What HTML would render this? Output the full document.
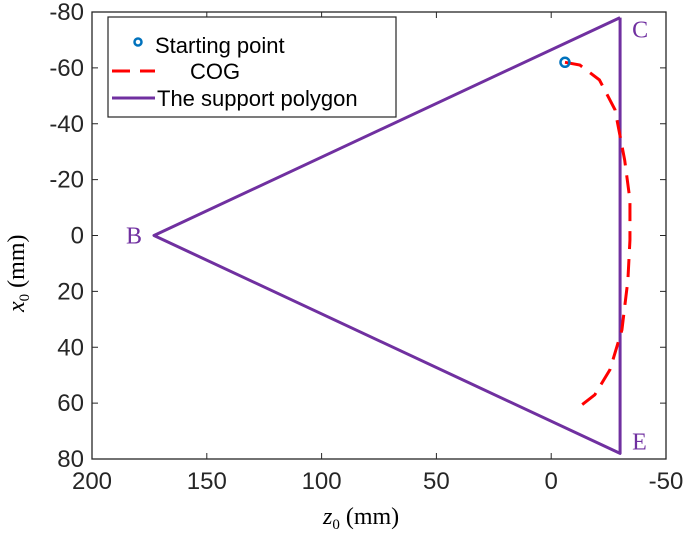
<!DOCTYPE html>
<html><head><meta charset="utf-8"><style>
body{margin:0;background:#fff}
svg text{font-family:"Liberation Sans",sans-serif}
</style></head><body>
<svg id="chart" width="685" height="531" xmlns="http://www.w3.org/2000/svg">
</svg>
<script>
const xTicks=[200,150,100,50,0,-50];
const yTicks=[-80,-60,-40,-20,0,20,40,60,80];
const polyZ=[-30,173,-30,-30];
const polyX=[-78,0,78,-78];
const cogZ=[-6,-12.5,-21,-27.8,-32,-34.3,-34.3,-33.4,-30.8,-25.6,-19,-11.7];
const cogX=[-62,-61,-55.7,-45,-27,-12.7,1.6,16,33.8,48,57,61.7];
const startZ=[-6];
const startX=[-62];
const vertexLabels=["C","B","E"];
const vertexZ=[-30,173,-30];
const vertexX=[-78,0,78];

const L=92,R=666,T=12,B=459;
const sx=z=>L+(200-z)/250*(R-L);
const sy=x=>T+(x+80)/160*(B-T);
const svg=document.getElementById('chart');
const NS='http://www.w3.org/2000/svg';
function mk(tag,attrs,txt){const e=document.createElementNS(NS,tag);for(const k in attrs)e.setAttribute(k,attrs[k]);if(txt!==undefined)e.textContent=txt;svg.appendChild(e);return e;}

let e=mk('rect',{x:L,y:T,width:R-L,height:B-T,fill:'none',stroke:'#262626','stroke-width':1.3});


xTicks.forEach(t=>{const x=sx(t);
 let a=mk('line',{x1:x,x2:x,y1:B,y2:B-6,stroke:'#262626'});
 
 
 a=mk('line',{x1:x,x2:x,y1:T,y2:T+6,stroke:'#262626'});
 
 
 a=mk('text',{x:x,y:B+30,'font-size':24,'text-anchor':'middle',fill:'#262626'},String(t));
 
 
});
yTicks.forEach(t=>{const y=sy(t);
 let a=mk('line',{x1:L,x2:L+6,y1:y,y2:y,stroke:'#262626'});
 
 
 a=mk('line',{x1:R,x2:R-6,y1:y,y2:y,stroke:'#262626'});
 
 
 a=mk('text',{x:L-8,y:y+8,'font-size':24,'text-anchor':'end',fill:'#262626'},String(t));
 
 
});
let pts=polyZ.map((z,i)=>sx(z)+','+sy(polyX[i])).join(' ');
e=mk('polyline',{points:pts,fill:'none',stroke:'#7030a0','stroke-width':3,'stroke-linejoin':'round'});


pts=cogZ.map((z,i)=>sx(z)+','+sy(cogX[i])).join(' ');
e=mk('polyline',{points:pts,fill:'none',stroke:'#ff0000','stroke-width':3,'stroke-dasharray':'18,10'});


startZ.forEach((z,i)=>{const c=mk('circle',{cx:sx(z),cy:sy(startX[i]),r:4.5,fill:'none',stroke:'#0072bd','stroke-width':2.5});
 
 });
vertexLabels.forEach((s,i)=>{const isB=s==='B';
 const t=mk('text',{x:isB?sx(vertexZ[i])-12:sx(vertexZ[i])+12,y:sy(vertexX[i])+(s==='C'?20:s==='E'?-4:8),'font-size':24,'text-anchor':isB?'end':'start',fill:'#7030a0'},s);
 t.setAttribute('style','font-family:"Liberation Serif",serif');
 
 });
e=mk('rect',{x:108,y:17,width:288,height:100,fill:'#fff',stroke:'#262626','stroke-width':1.2});


e=mk('circle',{cx:138,cy:42,r:3.5,fill:'none',stroke:'#0072bd','stroke-width':2.5});


e=mk('text',{x:155,y:53,'font-size':22,fill:'#000'},'Starting point');


e=mk('line',{x1:112,x2:155,y1:71,y2:71,stroke:'#ff0000','stroke-width':3,'stroke-dasharray':'18,10'});


e=mk('text',{x:190,y:79,'font-size':22,fill:'#000'},'COG');


e=mk('line',{x1:112,x2:155,y1:98,y2:98,stroke:'#7030a0','stroke-width':3});


e=mk('text',{x:157,y:106,'font-size':22,fill:'#000'},'The support polygon');


e=mk('text',{x:323,y:524,'font-size':24,fill:'#000',style:'font-family:"Liberation Serif",serif'});
e.innerHTML='<tspan font-style="italic">z</tspan><tspan font-size="15" dy="5">0</tspan><tspan dy="-5">  (mm)</tspan>';


e=mk('text',{x:0,y:0,'font-size':24,fill:'#000',transform:'translate(24,312) rotate(-90)',style:'font-family:"Liberation Serif",serif'});
e.innerHTML='<tspan font-style="italic">x</tspan><tspan font-size="15" dy="5">0</tspan><tspan dy="-5">  (mm)</tspan>';


</script>
</body></html>
